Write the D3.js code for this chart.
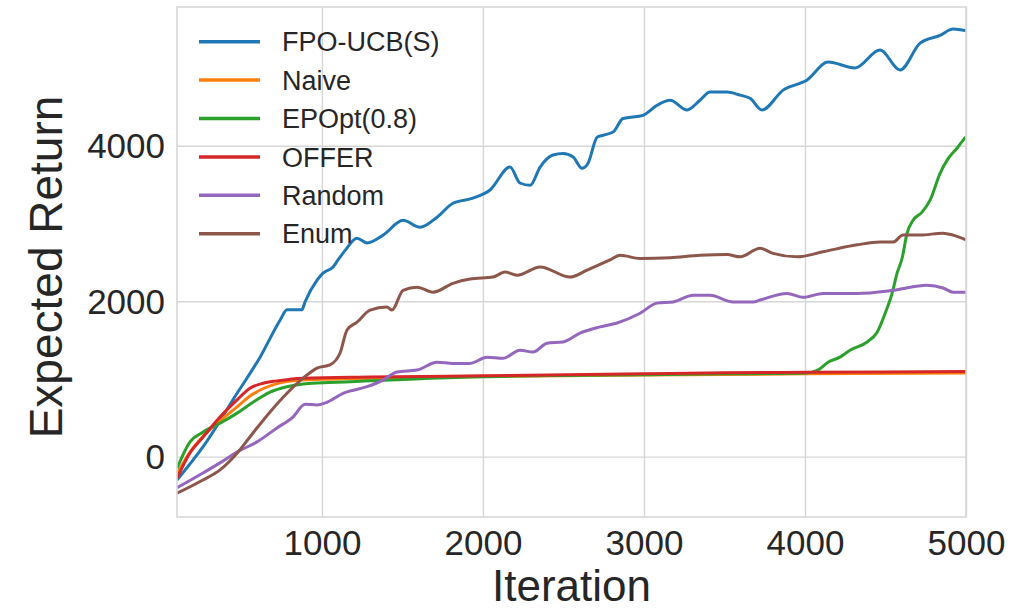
<!DOCTYPE html>
<html>
<head>
<meta charset="utf-8">
<script src="https://cdn.jsdelivr.net/npm/d3@7"></script>
<style>
    body { margin: 0; background: #fff; }
    text { font-family: Arial, "Liberation Sans", sans-serif; fill: #262626; }
</style>
</head>
<body>
<div id="chart"></div>
<script>

// series: [iteration, expected return]
const seriesNames = ["FPO-UCB(S)", "Naive", "EPOpt(0.8)", "OFFER", "Random", "Enum"];
const seriesColors = ["#1f77b4", "#ff7f0e", "#2ca02c", "#d62728", "#9467bd", "#8c564b"];

const fpoUcb = [[100,-300],[261,125],[473,815],[616,1280],[740,1755],[783,1890],[876,1890],[895,1990],
    [970,2270],[1007,2360],[1069,2440],[1100,2530],[1143,2650],[1218,2810],[1280,2750],[1380,2850],
    [1504,3040],[1609,2950],[1715,3080],[1814,3260],[1938,3325],[2044,3430],[2168,3725],[2230,3520],
    [2293,3490],[2355,3725],[2435,3880],[2497,3900],[2560,3855],[2615,3710],[2653,3775],[2709,4110],
    [2746,4135],[2808,4175],[2870,4350],[2994,4390],[3081,4520],[3162,4585],[3268,4460],[3348,4585],
    [3410,4690],[3516,4690],[3597,4650],[3659,4610],[3733,4460],[3864,4715],[4013,4845],[4143,5075],
    [4311,5000],[4466,5230],[4591,4975],[4715,5320],[4839,5420],[4920,5500],[4982,5485],[5000,5480]];

const naive = [[100,-220],[181,60],[261,260],[367,460],[473,640],[553,780],[640,880],[721,940],
    [820,975],[1000,995],[1200,1005],[1500,1015],[2000,1030],[3000,1050],[4000,1065],[5000,1075]];

const epopt = [[100,-150],[181,190],[261,315],[367,430],[473,560],[572,700],[678,830],[783,900],
    [883,935],[1007,950],[1299,975],[1920,1025],[2500,1045],[3000,1055],[3500,1065],[4000,1075],
    [4081,1115],[4143,1215],[4217,1280],[4280,1370],[4386,1475],[4448,1600],[4498,1845],[4541,2100],
    [4572,2360],[4603,2550],[4634,2875],[4671,3040],[4727,3145],[4777,3300],[4839,3645],[4883,3815],
    [4945,3970],[4982,4070],[5000,4110]];

const offer = [[100,-280],[181,50],[261,250],[367,510],[473,730],[553,880],[634,945],[721,975],
    [883,1010],[1299,1025],[2000,1040],[3000,1065],[3500,1080],[4000,1085],[5000,1095]];

const random = [[100,-400],[261,-210],[367,-80],[473,60],[597,190],[721,370],[820,510],[895,675],
    [970,665],[1032,700],[1131,815],[1280,900],[1380,985],[1466,1090],[1591,1115],[1715,1215],
    [1814,1200],[1920,1200],[2025,1280],[2125,1265],[2230,1370],[2311,1345],[2398,1460],[2497,1475],
    [2603,1590],[2727,1670],[2833,1720],[2976,1845],[3081,1975],[3181,1990],[3305,2075],[3410,2075],
    [3553,1990],[3678,1990],[3721,2015],[3889,2100],[3988,2050],[4112,2100],[4323,2100],[4547,2140],
    [4758,2205],[4858,2170],[4920,2115],[5000,2115]];

const enumSeries = [[100,-470],[261,-300],[367,-170],[473,45],[572,305],[678,575],[783,815],[883,1010],
    [970,1140],[1050,1180],[1112,1330],[1156,1630],[1218,1730],[1299,1885],[1404,1925],[1435,1885],
    [1504,2140],[1591,2180],[1690,2115],[1814,2230],[1920,2285],[2063,2310],[2137,2375],[2212,2335],
    [2355,2440],[2541,2310],[2647,2400],[2789,2530],[2851,2590],[2976,2550],[3162,2560],[3348,2590],
    [3516,2600],[3597,2570],[3721,2680],[3802,2615],[3951,2570],[4112,2635],[4323,2725],[4466,2760],
    [4547,2760],[4609,2850],[4715,2850],[4858,2875],[4920,2850],[5000,2790]];

const allSeries = [fpoUcb, naive, epopt, offer, random, enumSeries];

const xDomain = [100, 5000];
const yDomain = [-776, 5784];
const xTicks = [1000, 2000, 3000, 4000, 5000];
const yTicks = [0, 2000, 4000];


class ReturnChart {

    constructor(parentElement, width, height) {
        this.parentElement = parentElement;
        this.baseWidth = width;
        this.baseHeight = height;

        this.initVis();
    }

    initVis() {
        let vis = this;

        vis.margin = {top: 7, right: 64, bottom: 93, left: 177};
        vis.width = vis.baseWidth - vis.margin.left - vis.margin.right;
        vis.height = vis.baseHeight - vis.margin.top - vis.margin.bottom;

        vis.svg = d3.select("#" + vis.parentElement).append("svg")
            .attr("width", vis.baseWidth)
            .attr("height", vis.baseHeight)
            .append("g")
            .attr("transform", "translate(" + vis.margin.left + "," + vis.margin.top + ")");

        vis.x = d3.scaleLinear().domain(xDomain).range([0, vis.width]);
        vis.y = d3.scaleLinear().domain(yDomain).range([vis.height, 0]);

        vis.svg.append("clipPath")
            .attr("id", "plot-clip")
            .append("rect")
            .attr("width", vis.width)
            .attr("height", vis.height);

        vis.drawAxes();
        vis.updateVis();
    }

    drawAxes() {
        let vis = this;

        // grid
        vis.svg.append("g")
            .attr("transform", "translate(0," + vis.height + ")")
            .call(d3.axisBottom(vis.x).tickValues(xTicks).tickSize(-vis.height).tickFormat(""))
            .call(g => g.select(".domain").remove())
            .selectAll("line").attr("stroke", "#d6d6d6").attr("stroke-width", 1.4);

        vis.svg.append("g")
            .call(d3.axisLeft(vis.y).tickValues(yTicks).tickSize(-vis.width).tickFormat(""))
            .call(g => g.select(".domain").remove())
            .selectAll("line").attr("stroke", "#d6d6d6").attr("stroke-width", 1.4);

        // tick labels
        vis.svg.append("g")
            .attr("transform", "translate(0," + vis.height + ")")
            .call(d3.axisBottom(vis.x).tickValues(xTicks).tickSize(0).tickPadding(38).tickFormat(d3.format("d")))
            .call(g => g.select(".domain").remove())
            .selectAll("text")
            .attr("dy", 0)
            .style("font-size", "35px")
            .style("font-family", "Arial, 'Liberation Sans', sans-serif")
            .attr("fill", "#262626");

        vis.svg.append("g")
            .call(d3.axisLeft(vis.y).tickValues(yTicks).tickSize(0).tickPadding(12).tickFormat(d3.format("d")))
            .call(g => g.select(".domain").remove())
            .selectAll("text")
            .attr("dy", "0.35em")
            .style("font-size", "35px")
            .style("font-family", "Arial, 'Liberation Sans', sans-serif")
            .attr("fill", "#262626");

        // axis titles
        vis.svg.append("text")
            .attr("x", vis.width / 2)
            .attr("y", vis.height + 84)
            .attr("text-anchor", "middle")
            .style("font-size", "44px")
            .text("Iteration");

        vis.svg.append("text")
            .attr("transform", "translate(" + (62 - vis.margin.left) + "," + (vis.height / 2 + 5) + ") rotate(-90)")
            .attr("text-anchor", "middle")
            .style("font-size", "46px")
            .text("Expected Return");
    }

    updateVis() {
        let vis = this;

        let line = d3.line()
            .x(d => vis.x(d[0]))
            .y(d => vis.y(d[1]))
            .curve(d3.curveMonotoneX);

        vis.svg.append("g")
            .attr("clip-path", "url(#plot-clip)")
            .selectAll("path")
            .data(allSeries)
            .join("path")
            .attr("d", line)
            .attr("fill", "none")
            .attr("stroke", (d, i) => seriesColors[i])
            .attr("stroke-width", 3)
            .attr("stroke-linejoin", "round");

        // frame
        vis.svg.append("rect")
            .attr("width", vis.width)
            .attr("height", vis.height)
            .attr("fill", "none")
            .attr("stroke", "#d6d6d6")
            .attr("stroke-width", 1.6);

        // legend, no frame
        let legend = vis.svg.append("g")
            .selectAll("g")
            .data(seriesNames)
            .join("g")
            .attr("transform", (d, i) => "translate(22," + (34.7 + i * 38.4) + ")");

        legend.append("line")
            .attr("x1", 0)
            .attr("x2", 61)
            .attr("stroke", (d, i) => seriesColors[i])
            .attr("stroke-width", 3.5);

        legend.append("text")
            .attr("x", 83)
            .attr("dy", "0.36em")
            .style("font-size", "27px")
            .text(d => d);
    }
}

new ReturnChart("chart", 1030, 610);

</script>
</body>
</html>
